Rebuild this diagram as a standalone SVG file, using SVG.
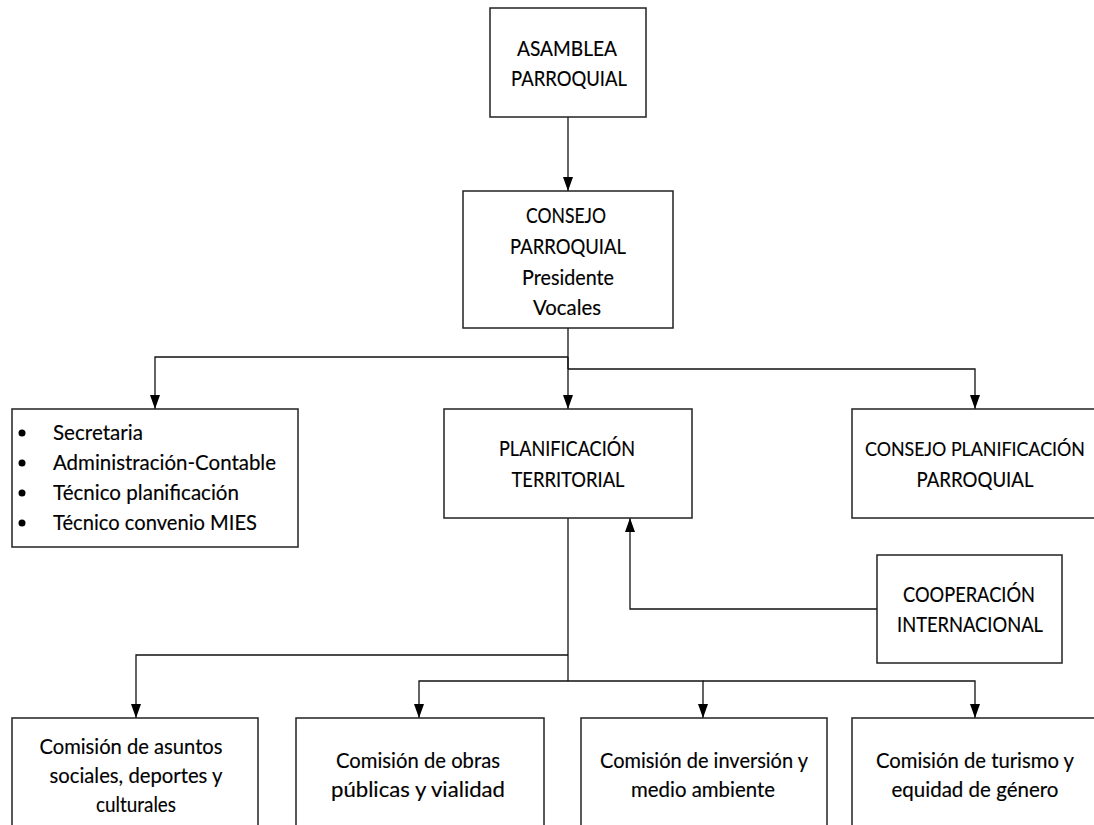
<svg xmlns="http://www.w3.org/2000/svg" width="1094" height="825" viewBox="0 0 1094 825">
<defs>
<marker id="arr" viewBox="0 0 14 10" refX="14" refY="5" markerWidth="14" markerHeight="10" markerUnits="userSpaceOnUse" orient="auto">
<path d="M0,0 L14,5 L0,10 z" fill="#000"/>
</marker>
<style>
.box{fill:#fff;stroke:#222;stroke-width:1.5}
.t{font-family:Lato,"Open Sans",sans-serif;font-size:20.5px;fill:#000;stroke:#000;stroke-width:0.15;text-anchor:middle}
.tl{font-family:Lato,"Open Sans",sans-serif;font-size:20.5px;fill:#000;stroke:#000;stroke-width:0.15}
.c{fill:none;stroke:#111;stroke-width:1.3}
.ca{fill:none;stroke:#111;stroke-width:1.3;marker-end:url(#arr)}
</style>
</defs>
<rect width="1094" height="825" fill="#fff"/>
<g id="connectors">
<path class="ca" d="M568,117 V191"/>
<path class="c" d="M568,328 V369"/>
<path class="ca" d="M568,357 H155 V409"/>
<path class="ca" d="M568,357 V409"/>
<path class="ca" d="M568,369 H975 V409"/>
<path class="c" d="M568,518 V681"/>
<path class="ca" d="M568,655 H136 V718"/>
<path class="ca" d="M568,681 H419 V718"/>
<path class="ca" d="M568,681 H703 V718"/>
<path class="ca" d="M703,681 H975 V718"/>
<path class="ca" d="M877,609 H630 V518"/>
</g>
<g id="asamblea">
<rect class="box" x="490" y="8" width="156" height="109"/>
<text class="t" x="567" y="56" textLength="100" lengthAdjust="spacingAndGlyphs">ASAMBLEA</text>
<text class="t" x="569" y="86" textLength="116" lengthAdjust="spacingAndGlyphs">PARROQUIAL</text>
</g>
<g id="consejo">
<rect class="box" x="463" y="191" width="210" height="137"/>
<text class="t" x="566" y="223" textLength="80" lengthAdjust="spacingAndGlyphs">CONSEJO</text>
<text class="t" x="568" y="254" textLength="116" lengthAdjust="spacingAndGlyphs">PARROQUIAL</text>
<text class="t" x="568" y="285" textLength="92" lengthAdjust="spacingAndGlyphs">Presidente</text>
<text class="t" x="567" y="315" textLength="68" lengthAdjust="spacingAndGlyphs">Vocales</text>
</g>
<g id="staff">
<rect class="box" x="12" y="409" width="286" height="138"/>
<circle cx="22" cy="433" r="3.5"/>
<circle cx="22" cy="463" r="3.5"/>
<circle cx="22" cy="493" r="3.5"/>
<circle cx="22" cy="523" r="3.5"/>
<text class="tl" x="53" y="440" textLength="90" lengthAdjust="spacingAndGlyphs">Secretaria</text>
<text class="tl" x="53" y="470" textLength="223" lengthAdjust="spacingAndGlyphs">Administración-Contable</text>
<text class="tl" x="53" y="500" textLength="186" lengthAdjust="spacingAndGlyphs">Técnico planificación</text>
<text class="tl" x="53" y="530" textLength="204" lengthAdjust="spacingAndGlyphs">Técnico convenio MIES</text>
</g>
<g id="planificacion">
<rect class="box" x="444" y="409" width="248" height="109"/>
<text class="t" x="567" y="456" textLength="136" lengthAdjust="spacingAndGlyphs">PLANIFICACIÓN</text>
<text class="t" x="568" y="487" textLength="113" lengthAdjust="spacingAndGlyphs">TERRITORIAL</text>
</g>
<g id="consejo-planificacion">
<rect class="box" x="852" y="409" width="250" height="109"/>
<text class="t" x="975" y="456" style="font-size:18.5px" textLength="220" lengthAdjust="spacingAndGlyphs">CONSEJO PLANIFICACIÓN</text>
<text class="t" x="975" y="487" textLength="117" lengthAdjust="spacingAndGlyphs">PARROQUIAL</text>
</g>
<g id="cooperacion">
<rect class="box" x="877" y="555" width="185" height="108"/>
<text class="t" x="969" y="602" textLength="132" lengthAdjust="spacingAndGlyphs">COOPERACIÓN</text>
<text class="t" x="970" y="632" textLength="146" lengthAdjust="spacingAndGlyphs">INTERNACIONAL</text>
</g>
<g id="com-sociales">
<rect class="box" x="12" y="718" width="246" height="120"/>
<text class="t" x="131" y="754" textLength="183" lengthAdjust="spacingAndGlyphs">Comisión de asuntos</text>
<text class="t" x="136" y="783" textLength="173" lengthAdjust="spacingAndGlyphs">sociales, deportes y</text>
<text class="t" x="136" y="812" textLength="80" lengthAdjust="spacingAndGlyphs">culturales</text>
</g>
<g id="com-obras">
<rect class="box" x="296" y="718" width="248" height="120"/>
<text class="t" x="418" y="768" textLength="164" lengthAdjust="spacingAndGlyphs">Comisión de obras</text>
<text class="t" x="418" y="797" textLength="174" lengthAdjust="spacingAndGlyphs">públicas y vialidad</text>
</g>
<g id="com-inversion">
<rect class="box" x="581" y="718" width="246" height="120"/>
<text class="t" x="704" y="768" textLength="208" lengthAdjust="spacingAndGlyphs">Comisión de inversión y</text>
<text class="t" x="703" y="797" textLength="144" lengthAdjust="spacingAndGlyphs">medio ambiente</text>
</g>
<g id="com-turismo">
<rect class="box" x="852" y="718" width="250" height="120"/>
<text class="t" x="975" y="768" textLength="198" lengthAdjust="spacingAndGlyphs">Comisión de turismo y</text>
<text class="t" x="975" y="797" textLength="167" lengthAdjust="spacingAndGlyphs">equidad de género</text>
</g>
</svg>
